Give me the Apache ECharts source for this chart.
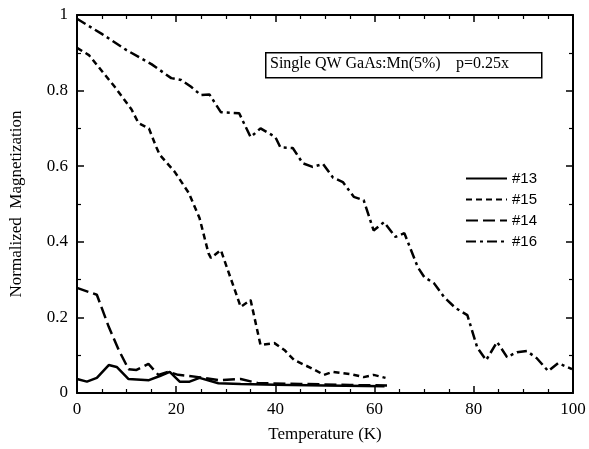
<!DOCTYPE html>
<html>
<head>
<meta charset="utf-8">
<script src="https://cdn.jsdelivr.net/npm/echarts@6/dist/echarts.min.js"></script>
<style>
  html, body { margin: 0; padding: 0; background: #fff; }
  #main { width: 589px; height: 449px; }
</style>
</head>
<body>
<div id="main"></div>
<script>
// temperature (K) / normalized magnetization
var t13 = [0, 2, 4, 6.4, 8, 10.4, 14.5, 16.7, 18.7, 20.7, 22.7, 24.7, 28.5, 33, 40, 50, 62];
var m13 = [0.037, 0.03, 0.04, 0.074, 0.069, 0.037, 0.034, 0.045, 0.056, 0.03, 0.03, 0.04, 0.026, 0.024, 0.022, 0.02, 0.018];

var t15 = [0, 2.4, 7.6, 11, 12.4, 14.5, 16, 16.7, 19.7, 22.5, 24.7, 26.5, 27, 29, 33, 35, 37, 39.8, 41.8, 43.8, 47.2, 49.8, 51.6, 55.2, 57.8, 59.8, 62.2];
var m15 = [0.913, 0.894, 0.81, 0.75, 0.714, 0.7, 0.65, 0.63, 0.585, 0.53, 0.463, 0.37, 0.357, 0.378, 0.228, 0.246, 0.127, 0.132, 0.114, 0.087, 0.066, 0.048, 0.056, 0.05, 0.042, 0.048, 0.04];

var t14 = [0, 4, 6.4, 8.4, 10.4, 12, 14.4, 16.4, 18.4, 20.4, 24.5, 28.5, 33, 36.5, 45, 55, 62.5];
var m14 = [0.278, 0.26, 0.175, 0.114, 0.063, 0.061, 0.077, 0.048, 0.056, 0.048, 0.042, 0.034, 0.037, 0.026, 0.024, 0.021, 0.02];

var t16 = [0, 5, 10, 15, 19, 21, 23, 25, 26.7, 29, 32.7, 35, 37, 40, 41, 43.5, 45.5, 47.5, 49.6, 51.6, 53.6, 55.8, 57.8, 59.8, 61.9, 64.2, 66,
  68.7, 70, 72, 74, 76.3, 78.7, 80.7, 82.5, 84.7, 86.7, 88.7, 90.7, 92.7, 95, 97, 99.8];
var m16 = [0.99, 0.95, 0.907, 0.87, 0.833, 0.828, 0.81, 0.788, 0.79, 0.743, 0.74, 0.677, 0.70, 0.677, 0.65, 0.648, 0.608, 0.598, 0.606, 0.57, 0.558, 0.519, 0.51, 0.43, 0.452, 0.413, 0.423,
  0.333, 0.307, 0.29, 0.254, 0.225, 0.206, 0.12, 0.087, 0.135, 0.095, 0.108, 0.111, 0.092, 0.058, 0.079, 0.063];

var names = ['#13', '#15', '#14', '#16'];
var dashes = ['solid', [6, 4], [12, 5], [10, 4, 3, 4]];

function pairs(t, m) {
  return t.map(function (x, i) { return [x, m[i]]; });
}
var allData = [pairs(t13, m13), pairs(t15, m15), pairs(t14, m14), pairs(t16, m16)];

var chart = echarts.init(document.getElementById('main'), null, { renderer: 'canvas' });

var serif = '"Liberation Serif", "Times New Roman", serif';

// 共用的坐标轴样式，四边都画框和朝内的刻度
var axisBase = {
  type: 'value',
  axisLine: { show: true, onZero: false, lineStyle: { color: '#000', width: 2 } },
  axisTick: { show: true, inside: true, length: 7, lineStyle: { color: '#000', width: 1.5 } },
  minorTick: { show: true, length: 4, lineStyle: { color: '#000', width: 1.2 } },
  splitLine: { show: false },
  minorSplitLine: { show: false }
};

var option = {
  backgroundColor: '#fff',
  animation: false,
  grid: { left: 75, right: 16, top: 15, bottom: 56 },
  legend: {
    data: names,
    orient: 'vertical',
    left: 460,
    top: 166,
    itemWidth: 41,
    itemHeight: 14,
    itemGap: 6,
    itemStyle: { opacity: 0 },
    textStyle: { fontFamily: '"Liberation Sans", Arial, sans-serif', fontSize: 15, color: '#000', padding: [0, 0, 0, 0] }
  },
  xAxis: [
    Object.assign({}, axisBase, {
      min: 0, max: 100, interval: 20,
      minorTick: Object.assign({}, axisBase.minorTick, { splitNumber: 4 }),
      name: 'Temperature (K)',
      nameLocation: 'middle',
      nameGap: 33,
      nameTextStyle: { fontFamily: serif, fontSize: 17, color: '#000' },
      axisLabel: { fontFamily: serif, fontSize: 17, color: '#000', margin: 8 }
    }),
    Object.assign({}, axisBase, {
      position: 'top',
      min: 0, max: 100, interval: 20,
      minorTick: Object.assign({}, axisBase.minorTick, { splitNumber: 4 }),
      axisLabel: { show: false }
    })
  ],
  yAxis: [
    Object.assign({}, axisBase, {
      min: 0, max: 1, interval: 0.2,
      minorTick: Object.assign({}, axisBase.minorTick, { splitNumber: 2 }),
      name: 'Normalized  Magnetization',
      nameLocation: 'middle',
      nameGap: 52,
      nameTextStyle: { fontFamily: serif, fontSize: 17, color: '#000' },
      axisLabel: { fontFamily: serif, fontSize: 17, color: '#000', margin: 9 }
    }),
    Object.assign({}, axisBase, {
      position: 'right',
      min: 0, max: 1, interval: 0.2,
      minorTick: Object.assign({}, axisBase.minorTick, { splitNumber: 2 }),
      axisLabel: { show: false }
    })
  ],
  graphic: [
    {
      type: 'rect',
      left: 265, top: 52,
      shape: { width: 276, height: 25 },
      style: { fill: '#fff', stroke: '#000', lineWidth: 1.5 }
    },
    {
      type: 'text',
      left: 270, top: 56,
      style: { text: 'Single QW GaAs:Mn(5%)', font: '16px ' + serif, fill: '#000' }
    },
    {
      type: 'text',
      left: 456, top: 56,
      style: { text: 'p=0.25x', font: '16px ' + serif, fill: '#000' }
    }
  ],
  series: names.map(function (n, i) {
    return {
      name: n,
      type: 'line',
      symbol: 'none',
      data: allData[i],
      lineStyle: { color: '#000', width: 2.5, type: dashes[i] },
      itemStyle: { color: '#000' },
      z: 3
    };
  })
};

chart.setOption(option);
</script>
</body>
</html>
